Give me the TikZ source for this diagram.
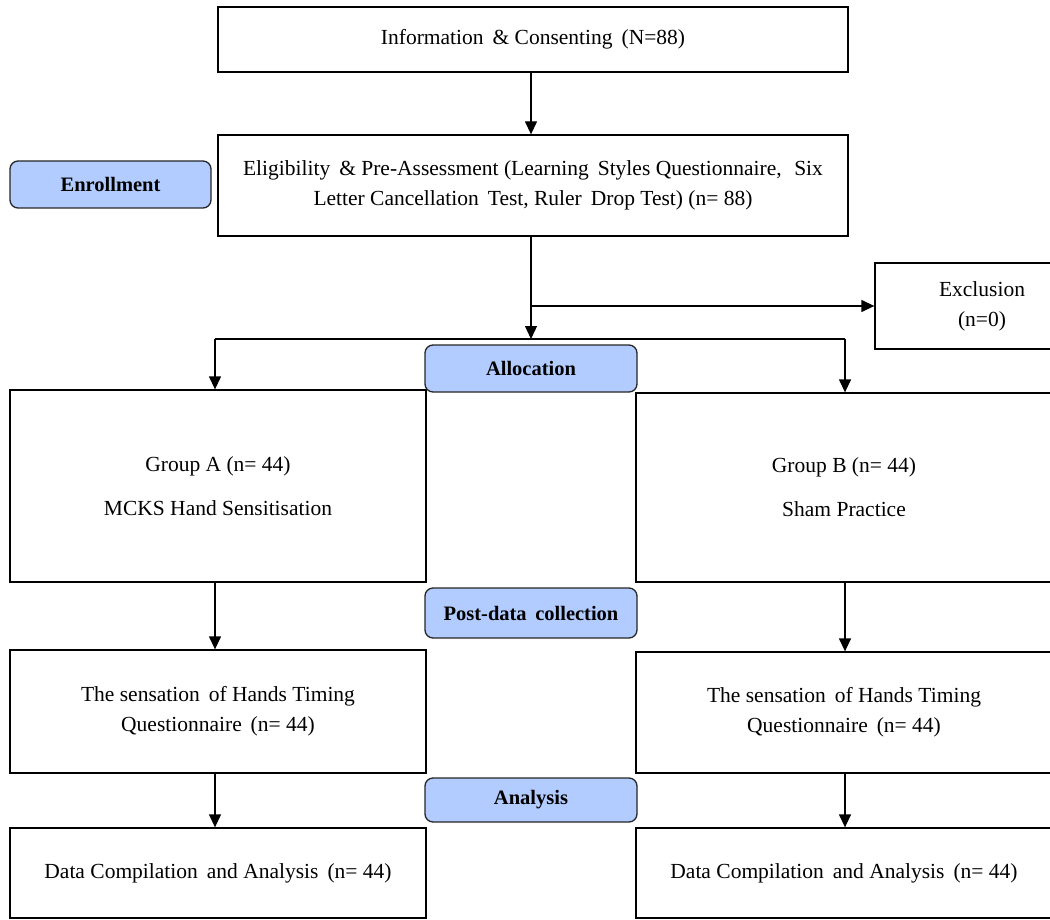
\documentclass[tikz,border=0pt]{standalone}
\usepackage{fontspec}
\setmainfont{Liberation Serif}
\usetikzlibrary{arrows.meta}
\definecolor{labelblue}{RGB}{178,204,255}
\begin{document}
\begin{tikzpicture}[x=1pt,y=-1pt,
  box/.style={draw=black,line width=1.3pt,fill=white,rectangle,inner sep=0pt,align=center,
    font=\fontsize{21.5}{30}\selectfont},
  lab/.style={draw=black!85,line width=1.3pt,fill=labelblue,rounded corners=8pt,inner sep=0pt,
    minimum width=212pt,font=\fontsize{20.5}{24}\selectfont\bfseries},
  conn/.style={line width=1.3pt},
  arr/.style={conn,-{Triangle[length=13pt,width=12pt]}}]
\useasboundingbox (0,0) rectangle (1050,920);
% boxes
\node[box,minimum width=630pt,minimum height=65pt] (info) at (533,39.5) {Information \,\& Consenting \,(N=88)};
\node[box,minimum width=630pt,minimum height=101pt] (elig) at (533,185.5)
  {Eligibility \,\& Pre-Assessment (Learning \,Styles Questionnaire, \,\,Six\\Letter Cancellation \,Test, Ruler \,Drop Test) (n= 88)};
\node[lab,minimum width=201pt,minimum height=47pt] (enrol) at (110.5,184.5) {Enrollment};
\node[box,minimum width=214pt,minimum height=86pt] (excl) at (982,306) {Exclusion\\(n=0)};
\node[box,minimum width=416pt,minimum height=192pt] (ga) at (218,486) {Group A (n= 44)\\[14pt]MCKS Hand Sensitisation};
\node[box,minimum width=416pt,minimum height=189pt] (gb) at (844,487.5) {Group B (n= 44)\\[14pt]Sham Practice};
\node[lab,minimum height=47pt] (alloc) at (531,368.5) {Allocation};
\node[box,minimum width=416pt,minimum height=123pt] (l3) at (218,711.5) {The sensation \,of Hands Timing\\Questionnaire \,(n= 44)};
\node[box,minimum width=416pt,minimum height=121pt] (r3) at (844,712.5) {The sensation \,of Hands Timing\\Questionnaire \,(n= 44)};
\node[lab,minimum height=50pt] (post) at (531,613) {Post-data \,collection};
\node[box,minimum width=416pt,minimum height=90pt] (l4) at (218,873) {Data Compilation \,and Analysis \,(n= 44)};
\node[box,minimum width=416pt,minimum height=90pt] (r4) at (844,873) {Data Compilation \,and Analysis \,(n= 44)};
\node[lab,minimum height=44pt] (anal) at (531,800) {Analysis};
% junctions
\coordinate (split) at (531,339);
\coordinate (exj) at (531,306);
\coordinate (jl) at (215,339);
\coordinate (jr) at (845,339);
% connectors
\draw[arr] (info.south -| split) -- (elig.north -| split);
\draw[arr] (elig.south -| split) -- (split);
\draw[arr] (exj) -- (excl.west);
\draw[conn] (jl) -- (jr);
\draw[arr] (jl) -- (jl |- ga.north);
\draw[arr] (jr) -- (jr |- gb.north);
\draw[arr] (ga.south -| jl) -- (l3.north -| jl);
\draw[arr] (gb.south -| jr) -- (r3.north -| jr);
\draw[arr] (l3.south -| jl) -- (l4.north -| jl);
\draw[arr] (r3.south -| jr) -- (r4.north -| jr);
\end{tikzpicture}
\end{document}
